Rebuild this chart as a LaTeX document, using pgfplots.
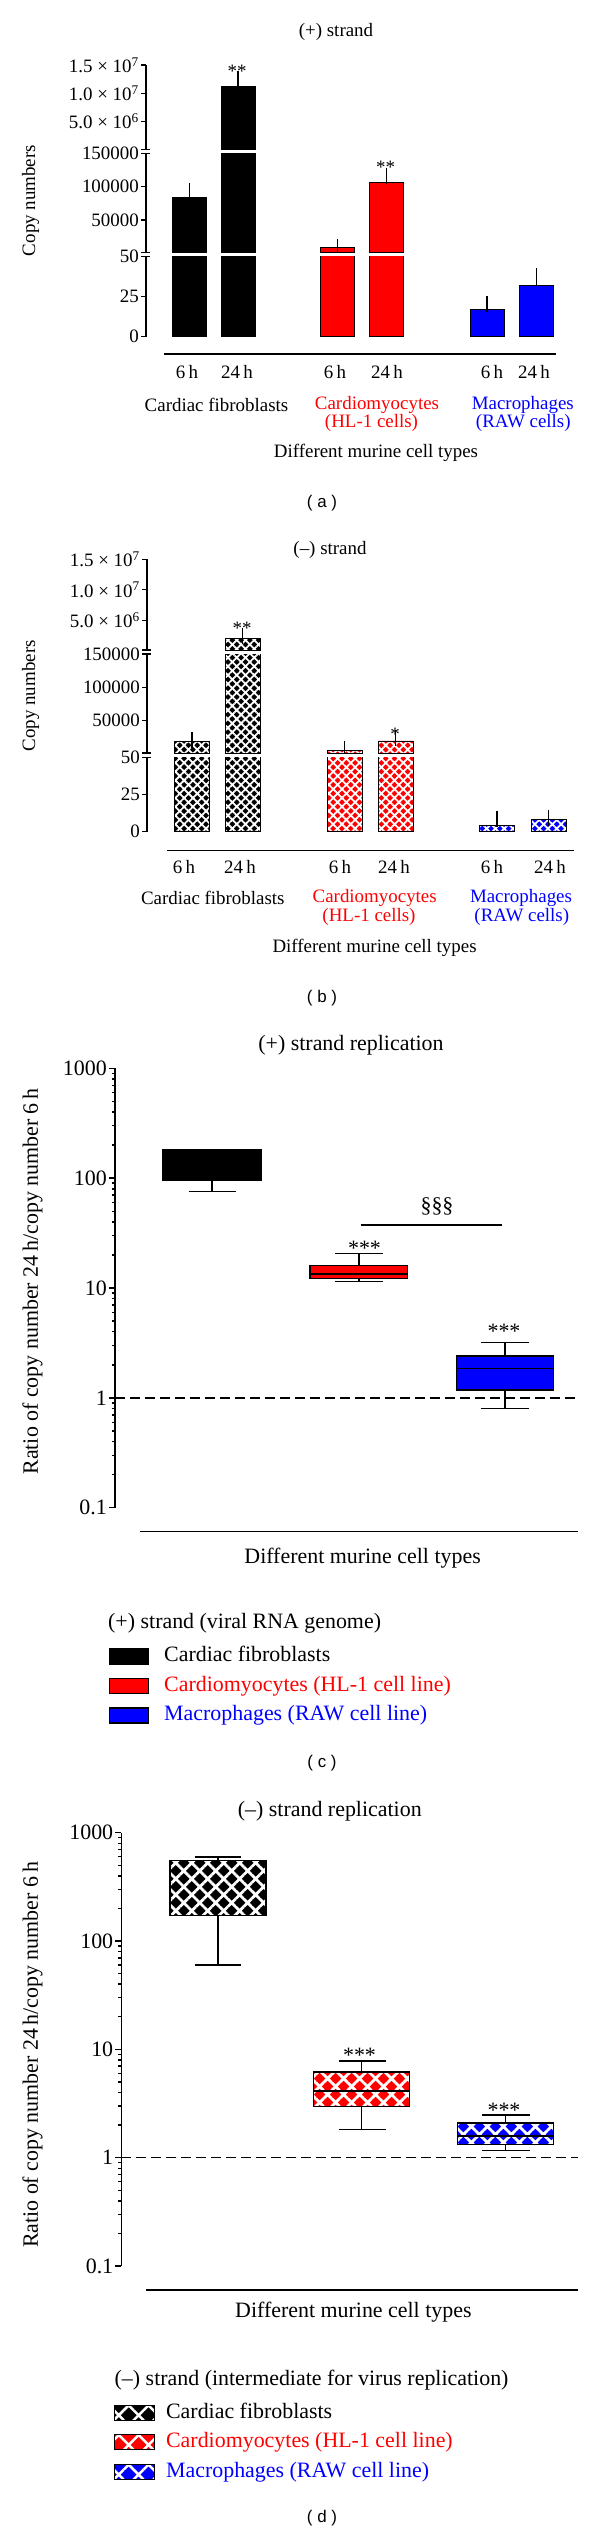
\documentclass[border=0pt]{standalone}
\usepackage{fontspec}
\setmainfont{Liberation Serif}
\newfontfamily\sansf{Liberation Sans}
\usepackage{pgfplots}
\pgfplotsset{compat=1.18}
\usetikzlibrary{patterns.meta}
\definecolor{cred}{RGB}{255,0,0}
\definecolor{cblue}{RGB}{0,0,255}
\newcommand\fA{\fontsize{19}{19}\selectfont}
\newcommand\fC{\fontsize{22}{22}\selectfont}
\newcommand\fP{\fontsize{17}{17}\selectfont\sansf}

\pgfplotsset{
 seg/.style={scale only axis, anchor=south west, enlargelimits=false,
   axis x line=none, axis y line=left, axis line style={-, line width=1.3bp, black},
   tick align=outside, major tick length=5bp, every tick/.style={black, line width=1.3bp},
   clip mode=individual, scaled y ticks=false,
   yticklabel style={font=\fA, inner sep=2bp}},
 segA/.style={seg, width=410bp, xmin=146, xmax=556},
 segB/.style={seg, width=427.4bp, xmin=147, xmax=574.4},
 mybar/.style={ybar, bar shift=0pt, draw=black, line width=0.8bp},
 errb/.style={draw=none, mark=none, forget plot, error bars/.cd, y dir=plus, y explicit,
   error bar style={draw=black, solid, line width=1.5bp},
   error mark options={draw=black, solid, line width=1.5bp, mark size=8bp}},
 hatchB/.style={postaction={pattern={Hatch[angle=45,distance=6.2bp,line width=1.8bp]}, pattern color=white, draw=black, line width=0.8bp}},
 hatchD/.style={postaction={pattern={Hatch[angle=45,distance=11.3bp,line width=2.8bp]}, pattern color=white, draw=black, line width=1.5bp}},
 hatchL/.style={postaction={pattern={Hatch[angle=45,distance=14bp,line width=2.5bp]}, pattern color=white, draw=black, line width=1.2bp}},
 bxf/.style={draw=black, line width=1.5bp, solid, mark=none, forget plot, line join=miter},
 wh/.style={black, line width=1.5bp, solid, mark=none, forget plot, unbounded coords=jump},
}

\begin{document}
\begin{tikzpicture}
\path[use as bounding box] (0,0) rectangle (600bp,-2534bp);

% ---------------- Panel (a) ----------------
\begin{axis}[segA, at={(146bp,-336.7bp)}, height=80bp, ymin=0, ymax=50,
  ytick={0,25,50}, yticklabels={0,25,50}]
 \addplot[mybar, bar width=34, fill=black, restrict y to domain*=0:60] coordinates {(189.3,83500) (238,11180000)};
 \addplot[mybar, bar width=34, fill=cred, restrict y to domain*=0:60] coordinates {(337.3,8500) (386.5,106500)};
 \addplot[mybar, bar width=34, fill=cblue, restrict y to domain*=0:60] coordinates {(487,17.1) (536.3,32.3)};
 \addplot[errb] coordinates {(487,17.1) +- (0,3.3) (536.3,32.3) +- (0,5.6)};
\end{axis}
\begin{axis}[segA, at={(146bp,-252.7bp)}, height=99.4bp, ymin=1000, ymax=150000,
  ytick={50000,100000,150000}, yticklabels={50000,100000,150000}]
 \addplot[mybar, bar width=34, fill=black, restrict y to domain*=0:200000] coordinates {(189.3,83500) (238,11180000)};
 \addplot[mybar, bar width=34, fill=cred, restrict y to domain*=0:200000] coordinates {(337.3,8500) (386.5,106500)};
 \addplot[errb] coordinates {(189.3,83500) +- (0,10500) (337.3,8500) +- (0,1500) (386.5,106500) +- (0,10000)};
\end{axis}
\begin{axis}[segA, at={(146bp,-149.3bp)}, height=84.3bp, ymin=100000, ymax=15000000,
  ytick={5000000,10000000,15000000},
  yticklabels={5.0 × 10\textsuperscript{6},1.0 × 10\textsuperscript{7},1.5 × 10\textsuperscript{7}}]
 \addplot[mybar, bar width=34, fill=black] coordinates {(238,11180000)};
 \addplot[errb] coordinates {(238,11180000) +- (0,1420000)};
\end{axis}

% ---------------- Panel (b) ----------------
\begin{axis}[segB, at={(147bp,-831.7bp)}, height=74.4bp, ymin=0, ymax=50,
  ytick={0,25,50}, yticklabels={0,25,50}]
 \addplot[mybar, bar width=35, fill=black, hatchB, restrict y to domain*=0:60] coordinates {(192,18600) (242.5,1980000)};
 \addplot[mybar, bar width=35, fill=cred, hatchB, restrict y to domain*=0:60] coordinates {(344.6,4500) (395.5,19200)};
 \addplot[mybar, bar width=35, fill=cblue, hatchB, restrict y to domain*=0:60] coordinates {(497,4.5) (548.7,8.5)};
 \addplot[errb] coordinates {(497,4.5) +- (0,3.8) (548.7,8.5) +- (0,0.9)};
\end{axis}
\begin{axis}[segB, at={(147bp,-753bp)}, height=99bp, ymin=1000, ymax=150000,
  ytick={50000,100000,150000}, yticklabels={50000,100000,150000}]
 \addplot[mybar, bar width=35, fill=black, hatchB, restrict y to domain*=0:200000] coordinates {(192,18600) (242.5,1980000)};
 \addplot[mybar, bar width=35, fill=cred, hatchB, restrict y to domain*=0:200000] coordinates {(344.6,4500) (395.5,19200)};
 \addplot[errb] coordinates {(192,18600) +- (0,2100) (344.6,4500) +- (0,2000) (395.5,19200) +- (0,4000)};
\end{axis}
\begin{axis}[segB, at={(147bp,-650bp)}, height=90.7bp, ymin=100000, ymax=15000000,
  ytick={5000000,10000000,15000000},
  yticklabels={5.0 × 10\textsuperscript{6},1.0 × 10\textsuperscript{7},1.5 × 10\textsuperscript{7}}]
 \addplot[mybar, bar width=35, fill=black, hatchB] coordinates {(242.5,1980000)};
 \addplot[errb] coordinates {(242.5,1980000) +- (0,450000)};
\end{axis}

% ---------------- Panel (c) ----------------
\begin{axis}[scale only axis, anchor=south west, enlargelimits=false,
  at={(115bp,-1507.7bp)}, width=463bp, height=439.4bp, xmin=115, xmax=578,
  ymode=log, ymin=0.1, ymax=1000,
  axis x line=none, axis y line=left, axis line style={-, line width=1.6bp, black},
  tick align=outside, major tick length=6bp, minor tick length=3.5bp,
  every tick/.style={black, line width=1.4bp},
  ytick={0.1,1,10,100,1000}, yticklabels={0.1,1,10,100,1000},
  minor ytick={0.2,0.3,0.4,0.5,0.6,0.7,0.8,0.9,2,3,4,5,6,7,8,9,20,30,40,50,60,70,80,90,200,300,400,500,600,700,800,900},
  yticklabel style={font=\fC, inner sep=2bp},
  legend cell align=left,
  legend image code/.code={\draw[#1] (0bp,-7.5bp) rectangle (39.5bp,7.5bp);},
  legend style={at={(-0.01404,-0.3122)}, anchor=north west, draw=none, fill=none,
    inner sep=0pt, outer sep=0pt, font=\fC, row sep=6.5bp,
    nodes={inner sep=1bp, text height=16bp, text depth=5bp},
    /tikz/every odd column/.append style={column sep=14bp}}]
 % whiskers
 \addplot[wh] coordinates {(212,181) (212,182) (212,nan) (188.5,182) (235.5,182) (235.5,nan) (212,95) (212,76) (212,nan) (188.5,76) (235.5,76)};
 \addplot[wh] coordinates {(358.8,16) (358.8,20.7) (358.8,nan) (335,20.7) (383,20.7) (383,nan) (358.8,12.2) (358.8,11.5) (358.8,nan) (335,11.5) (383,11.5)};
 \addplot[wh] coordinates {(505,2.41) (505,3.19) (505,nan) (481.3,3.19) (528.7,3.19) (528.7,nan) (505,1.175) (505,0.80) (505,nan) (481.3,0.80) (528.7,0.80)};
 % boxes
 \addplot[bxf, fill=black] coordinates {(163,95) (261,95) (261,181) (163,181)} -- cycle;
 \addplot[bxf, fill=cred] coordinates {(310,12.2) (407.6,12.2) (407.6,16) (310,16)} -- cycle;
 \addplot[bxf, fill=cblue] coordinates {(456.5,1.175) (553.5,1.175) (553.5,2.41) (456.5,2.41)} -- cycle;
 % medians
 \addplot[wh] coordinates {(310,13.4) (407.6,13.4)};
 \addplot[wh] coordinates {(456.5,1.85) (553.5,1.85)};
 % reference line
 \addplot[black, line width=1.5bp, dash pattern=on 10bp off 5bp, forget plot] coordinates {(115,1) (578,1)};
 \addlegendimage{fill=black, draw=black, line width=1.2bp}
 \addlegendentry{Cardiac fibroblasts}
 \addlegendimage{fill=cred, draw=black, line width=1.2bp}
 \addlegendentry{\textcolor{cred}{Cardiomyocytes (HL-1 cell line)}}
 \addlegendimage{fill=cblue, draw=black, line width=1.2bp}
 \addlegendentry{\textcolor{cblue}{Macrophages (RAW cell line)}}
\end{axis}

% ---------------- Panel (d) ----------------
\begin{axis}[scale only axis, anchor=south west, enlargelimits=false,
  at={(121.4bp,-2266bp)}, width=456.6bp, height=433.3bp, xmin=121.4, xmax=578,
  ymode=log, ymin=0.1, ymax=1000,
  axis x line=none, axis y line=left, axis line style={-, line width=1.6bp, black},
  tick align=outside, major tick length=6bp, minor tick length=3.5bp,
  every tick/.style={black, line width=1.4bp},
  ytick={0.1,1,10,100,1000}, yticklabels={0.1,1,10,100,1000},
  minor ytick={0.2,0.3,0.4,0.5,0.6,0.7,0.8,0.9,2,3,4,5,6,7,8,9,20,30,40,50,60,70,80,90,200,300,400,500,600,700,800,900},
  yticklabel style={font=\fC, inner sep=2bp},
  legend cell align=left,
  legend image code/.code={\draw[#1] (0bp,-7.5bp) rectangle (39.5bp,7.5bp);},
  legend style={at={(-0.0162,-0.3118)}, anchor=north west, draw=none, fill=none,
    inner sep=0pt, outer sep=0pt, font=\fC, row sep=6.5bp,
    nodes={inner sep=1bp, text height=16bp, text depth=5bp},
    /tikz/every odd column/.append style={column sep=10.4bp}}]
 % whiskers
 \addplot[wh] coordinates {(218,553) (218,594) (218,nan) (194.7,594) (241.2,594) (241.2,nan) (218,172) (218,60) (218,nan) (194.7,60) (241.2,60)};
 \addplot[wh] coordinates {(361.6,6.17) (361.6,7.8) (361.6,nan) (338.5,7.8) (385.5,7.8) (385.5,nan) (361.6,2.96) (361.6,1.82) (361.6,nan) (338.5,1.82) (385.5,1.82)};
 \addplot[wh] coordinates {(505.5,2.10) (505.5,2.49) (505.5,nan) (482,2.49) (529.8,2.49) (529.8,nan) (505.5,1.33) (505.5,1.16) (505.5,nan) (482,1.16) (529.8,1.16)};
 % boxes
 \addplot[bxf, fill=black, hatchD] coordinates {(170,172) (266,172) (266,553) (170,553)} -- cycle;
 \addplot[bxf, fill=cred, hatchD] coordinates {(313.7,2.96) (409.5,2.96) (409.5,6.17) (313.7,6.17)} -- cycle;
 \addplot[bxf, fill=cblue, hatchD] coordinates {(457.6,1.33) (553.4,1.33) (553.4,2.10) (457.6,2.10)} -- cycle;
 % medians
 \addplot[wh] coordinates {(313.7,4.12) (409.5,4.12)};
 \addplot[wh] coordinates {(457.6,1.58) (553.4,1.58)};
 % reference line
 \addplot[black, line width=1.5bp, dash pattern=on 10bp off 5bp, forget plot] coordinates {(121.4,1) (578,1)};
 \addlegendimage{fill=black, draw=black, line width=1.2bp, hatchL}
 \addlegendentry{Cardiac fibroblasts}
 \addlegendimage{fill=cred, draw=black, line width=1.2bp, hatchL}
 \addlegendentry{\textcolor{cred}{Cardiomyocytes (HL-1 cell line)}}
 \addlegendimage{fill=cblue, draw=black, line width=1.2bp, hatchL}
 \addlegendentry{\textcolor{cblue}{Macrophages (RAW cell line)}}
\end{axis}

% ---------------- Annotations ----------------
\begin{scope}[x=1bp, y=-1bp]
 % panel (a)
 \node[font=\fA] at (336,32) {(+) strand};
 \node[font=\fA, rotate=90] at (30.5,200.6) {Copy numbers};
 \draw[line width=1.3bp] (141,252.7) -- (150,252.7) (141,256.7) -- (150,256.7);
 \draw[line width=1.3bp] (141,149.3) -- (150,149.3) (141,153.3) -- (150,153.3);
 \draw[line width=1.3bp] (164.3,354) -- (556,354);
 \foreach \x/\t in {187/6\,h, 237/24\,h, 335/6\,h, 387/24\,h, 492/6\,h, 534/24\,h}
   \node[font=\fA] at (\x,372) {\t};
 \node[font=\fA] at (216.5,404.5) {Cardiac fibroblasts};
 \node[font=\fA, text=cred] at (377,404.5) {Cardiomyocytes};
 \node[font=\fA, text=cred] at (371.5,423) {(HL-1 cells)};
 \node[font=\fA, text=cblue] at (522.8,404.5) {Macrophages};
 \node[font=\fA, text=cblue] at (523.3,423) {(RAW cells)};
 \node[font=\fA] at (376,453) {Different murine cell types};
 \node[font=\fP] at (322,503) {( a )};
 \node[font=\fA, anchor=base] at (237,77.2) {**};
 \node[font=\fA, anchor=base] at (385.5,173.2) {**};
 % panel (b)
 \node[font=\fA] at (330,550) {(–) strand};
 \node[font=\fA, rotate=90] at (30.5,695.8) {Copy numbers};
 \draw[line width=1.3bp] (142,753) -- (151,753) (142,757.3) -- (151,757.3);
 \draw[line width=1.3bp] (142,650) -- (151,650) (142,654) -- (151,654);
 \draw[line width=1.3bp] (166.8,850.7) -- (574.4,850.7);
 \foreach \x/\t in {184/6\,h, 240/24\,h, 340/6\,h, 394/24\,h, 492/6\,h, 550/24\,h}
   \node[font=\fA] at (\x,867.3) {\t};
 \node[font=\fA] at (212.8,898) {Cardiac fibroblasts};
 \node[font=\fA, text=cred] at (374.7,898) {Cardiomyocytes};
 \node[font=\fA, text=cred] at (369,916.5) {(HL-1 cells)};
 \node[font=\fA, text=cblue] at (521,898) {Macrophages};
 \node[font=\fA, text=cblue] at (521.8,916.5) {(RAW cells)};
 \node[font=\fA] at (374.6,948.3) {Different murine cell types};
 \node[font=\fP] at (322,998.3) {( b )};
 \node[font=\fA, anchor=base] at (242,634.5) {**};
 \node[font=\fA, anchor=base] at (395,740.5) {*};
 % panel (c)
 \node[font=\fC] at (351,1045.7) {(+) strand replication};
 \node[font=\fC, rotate=90] at (32.4,1281.5) {Ratio of copy number 24\,h/copy number 6\,h};
 \draw[line width=1.5bp] (140,1531.7) -- (578,1531.7);
 \node[font=\fC] at (362.6,1558.3) {Different murine cell types};
 \node[font=\fC, anchor=west, inner sep=0pt] at (108,1623.3) {(+) strand (viral RNA genome)};
 \node[font=\fP] at (322,1763.3) {( c )};
 \node[font=\fC, anchor=base] at (364.5,1255.6) {***};
 \node[font=\fC, anchor=base] at (504,1338.3) {***};
 \node[font=\fC] at (437,1206.7) {§§§};
 \draw[line width=1.5bp] (360.7,1225) -- (502,1225);
 % panel (d)
 \node[font=\fC] at (329.8,1811.7) {(–) strand replication};
 \node[font=\fC, rotate=90] at (32.4,2055) {Ratio of copy number 24\,h/copy number 6\,h};
 \draw[line width=1.5bp] (146,2290) -- (578,2290);
 \node[font=\fC] at (353.4,2311.7) {Different murine cell types};
 \node[font=\fC, anchor=west, inner sep=0pt] at (114.5,2380) {(–) strand (intermediate for virus replication)};
 \node[font=\fP] at (322,2518.3) {( d )};
 \node[font=\fC, anchor=base] at (359.5,2062.3) {***};
 \node[font=\fC, anchor=base] at (504,2117.3) {***};
\end{scope}
\end{tikzpicture}
\end{document}
